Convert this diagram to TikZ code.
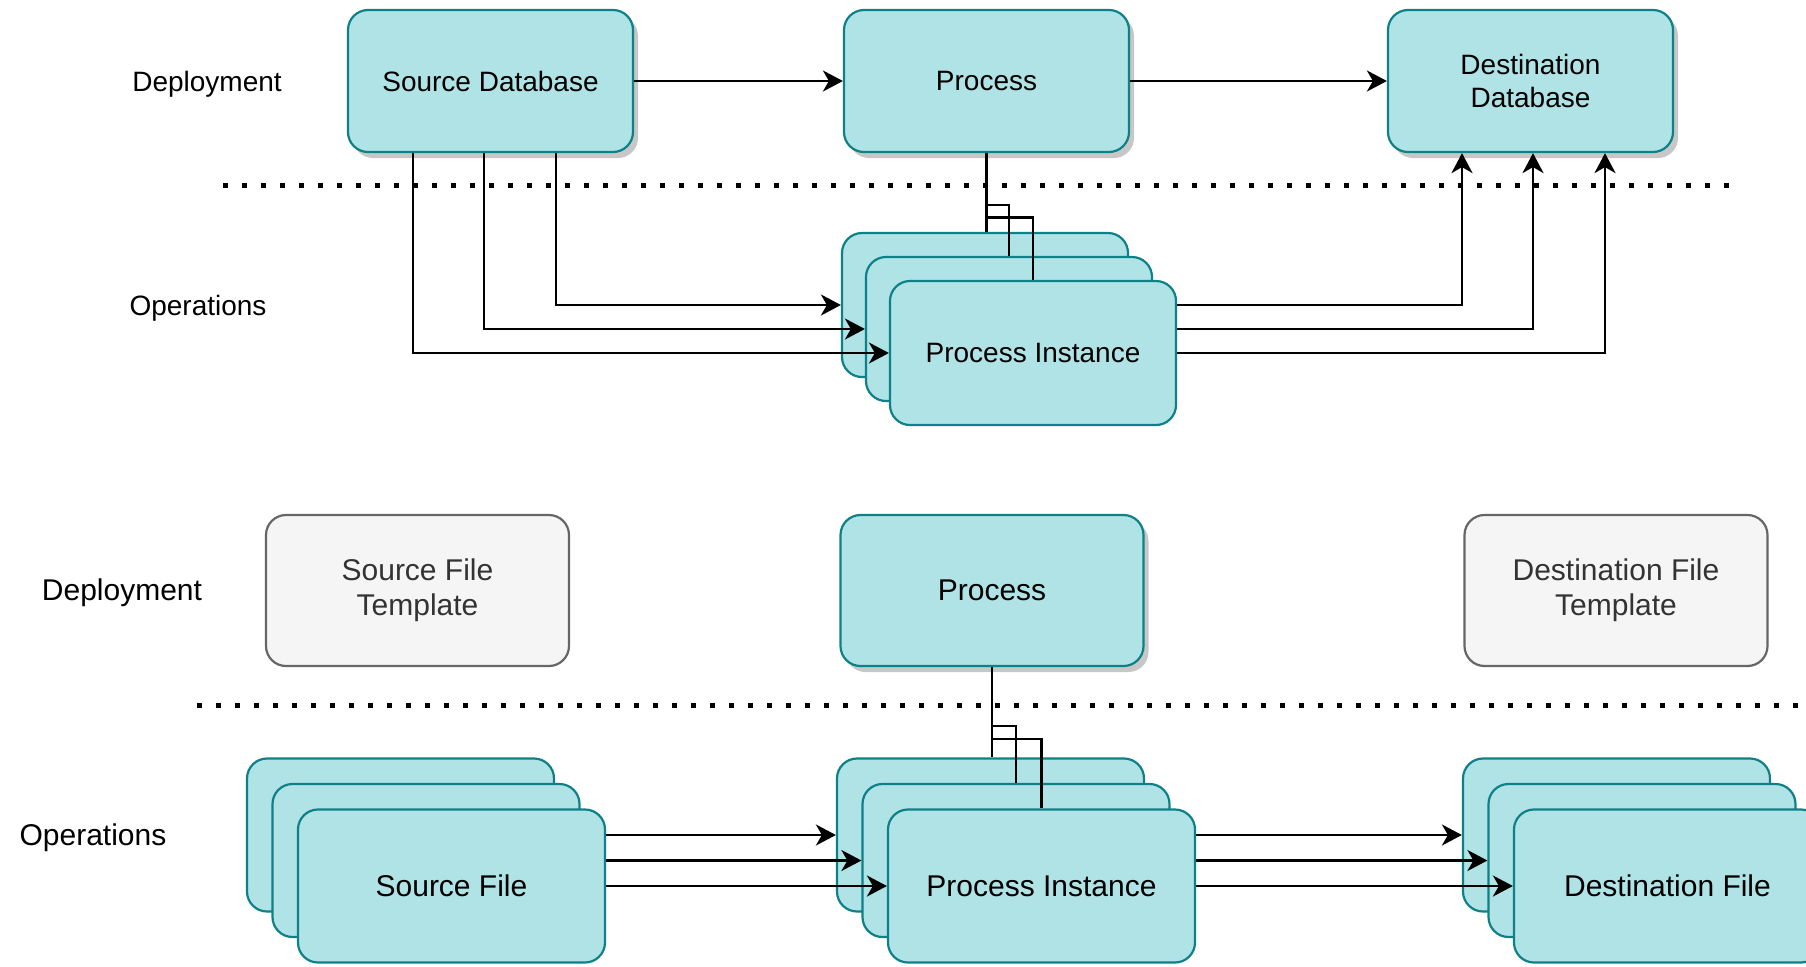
\documentclass[tikz,border=0pt]{standalone}
\usepackage{fontspec}
\setmainfont{Liberation Sans}
\usetikzlibrary{arrows.meta,calc,shadows}
\definecolor{tealfill}{HTML}{B0E3E6}
\definecolor{tealline}{HTML}{0E8088}
\definecolor{greyfill}{HTML}{F5F5F5}
\definecolor{greyline}{HTML}{666666}
\definecolor{greytext}{HTML}{333333}

\begin{document}
\begin{tikzpicture}[x=0.5pt,y=-0.5pt,
  box/.style={draw=tealline, fill=tealfill, line width=1.1pt, rounded corners=10pt,
    align=center, inner sep=0pt, text=black},
  template/.style={draw=greyline, fill=greyfill, text=greytext, line width=1.1pt,
    rounded corners=10pt, align=center, inner sep=0pt},
  topsz/.style={minimum width=142.5pt, minimum height=71pt, font=\fontsize{14}{16.5}\selectfont},
  instsz/.style={minimum width=143pt, minimum height=72pt, font=\fontsize{14}{16.5}\selectfont},
  depsz/.style={minimum width=151.5pt, minimum height=75.5pt, font=\fontsize{15}{17.5}\selectfont},
  filesz/.style={minimum width=153.5pt, minimum height=76.5pt, font=\fontsize{15}{17.5}\selectfont},
  shadowed/.style={drop shadow={shadow xshift=2.5pt, shadow yshift=-3pt, fill=black, opacity=0.22}},
  lbltop/.style={text=black, inner sep=0pt, font=\fontsize{14}{16.5}\selectfont},
  lblbot/.style={text=black, inner sep=0pt, font=\fontsize{15}{17.5}\selectfont},
  link/.style={line width=1.25pt, draw=black},
  arr/.style={link, -{Stealth[length=10pt, width=10.5pt, inset=3pt]}},
  divider/.style={line width=2.5pt, dash pattern=on 2.5pt off 7pt},
]
\clip (0,0) rectangle (1806,966);

% ---------- upper scenario: databases ----------
\coordinate (divA1) at (223,185);
\coordinate (divA2) at (1734,185);
\draw[divider] (divA1) -- (divA2);

\node[lbltop] (deptop) at (207,84) {Deployment};
\node[lbltop] (opstop) at (198,308) {Operations};

\node[box,topsz,shadowed] (srcdb) at (490.5,81) {Source Database};
\node[box,topsz,shadowed] (proc) at (986.5,81) {Process};
\node[box,topsz,shadowed] (dstdb) at (1530.5,81) {Destination\\Database};

\node[box,instsz] (pi1) at (985,305) {};
\node[box,instsz] (pi2) at (1009,329) {};
\node[box,instsz] (pi3) at (1033,353) {Process Instance};

\draw[arr] (srcdb) -- (proc);
\draw[arr] (proc) -- (dstdb);

\draw[arr] ($(srcdb.south)+(65.5,0)$) |- (pi1.west);
\draw[arr] ($(srcdb.south)+(-6.5,0)$) |- (pi2.west);
\draw[arr] ($(srcdb.south)+(-77.5,0)$) |- (pi3.west);

\draw[arr] (pi3.east |- pi1.center) -| ($(dstdb.south)+(-68.5,0)$);
\draw[arr] (pi3.east |- pi2.center) -| ($(dstdb.south)+(2.5,0)$);
\draw[arr] (pi3.east) -| ($(dstdb.south)+(74.5,0)$);

\draw[link] (proc.south) -- (proc.south |- pi1.north);
\draw[link] (proc.south) -- ++(0,52) -| (pi2.north);
\draw[link] (proc.south) -- ++(0,64.5) -| (pi3.north);

% ---------- lower scenario: files ----------
\coordinate (divB1) at (197,705);
\coordinate (divB2) at (1806,705);
\draw[divider] (divB1) -- (divB2);

\node[lblbot] (depbot) at (122,593) {Deployment};
\node[lblbot] (opsbot) at (93,838) {Operations};

\node[template,depsz] (sft) at (417.5,590.5) {Source File\\Template};
\node[box,depsz,shadowed] (bproc) at (992,590.5) {Process};
\node[template,depsz] (dft) at (1616,590.5) {Destination File\\Template};

\node[box,filesz] (sf1) at (400.5,835) {};
\node[box,filesz] (sf2) at (426,860.5) {};
\node[box,filesz] (sf3) at (451.5,886) {Source File};

\node[box,filesz] (bpi1) at (990.5,835) {};
\node[box,filesz] (bpi2) at (1016,860.5) {};
\node[box,filesz] (bpi3) at (1041.5,886) {Process Instance};

\node[box,filesz] (df1) at (1616.5,835) {};
\node[box,filesz] (df2) at (1642,860.5) {};
\node[box,filesz] (df3) at (1667.5,886) {Destination File};

\draw[arr] (sf3.east |- bpi1.center) -- (bpi1.west);
\draw[arr] (sf3.east |- bpi2.center) -- (bpi2.west);
\draw[arr] (sf3.east) -- (bpi3.west);

\draw[arr] (bpi3.east |- df1.center) -- (df1.west);
\draw[arr] (bpi3.east |- df2.center) -- (df2.west);
\draw[arr] (bpi3.east) -- (df3.west);

\draw[link] (bproc.south) -- (bproc.south |- bpi1.north);
\draw[link] (bproc.south) -- ++(0,59) -| (bpi2.north);
\draw[link] (bproc.south) -- ++(0,72) -| (bpi3.north);
\end{tikzpicture}
\end{document}
